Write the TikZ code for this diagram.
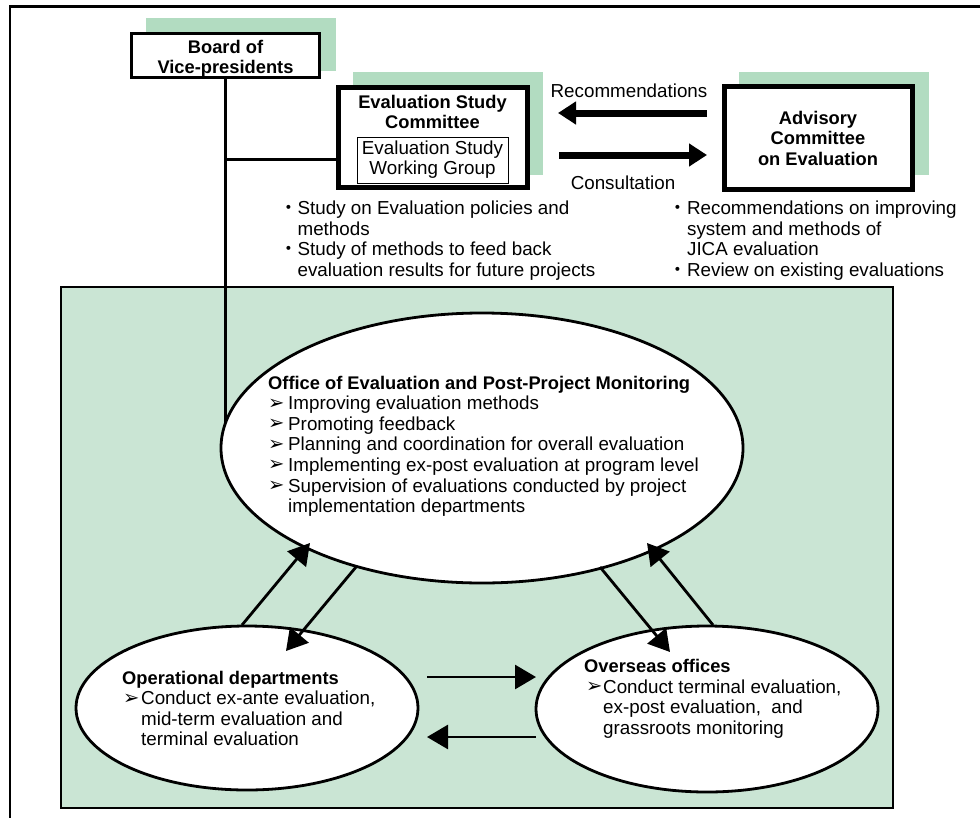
\documentclass[tikz,border=0pt]{standalone}
\usepackage{fontspec}
\setmainfont{Liberation Sans}
\newfontfamily\dejavu{DejaVu Sans}
\newfontfamily\cjk{Noto Sans CJK JP}
\usetikzlibrary{arrows.meta,shapes.geometric}
\definecolor{shadowgreen}{RGB}{178,220,193}
\definecolor{panelgreen}{RGB}{202,229,212}
\newcommand\blkL[1]{\begin{tabular}[t]{@{}l@{}}#1\end{tabular}}
\newcommand\blkC[1]{\begin{tabular}[t]{@{}c@{}}#1\end{tabular}}
\newcommand\dotb{\makebox[18.4pt][c]{\cjk ・}}
\newcommand\arwb[1]{\makebox[#1][l]{\raisebox{0.5pt}{\dejavu\fontsize{19.5}{15}\selectfont ➢}}}
\newcommand\ttlbold{\fontsize{18.3}{20.6}\selectfont\bfseries}
\begin{document}
\begin{tikzpicture}[x=1pt,y=-1pt,
  txt/.style={inner sep=0pt,font=\fontsize{18.8}{20.6}\selectfont},
  txtb/.style={inner sep=0pt,font=\fontsize{18.3}{20.6}\selectfont\bfseries},
  boxthin/.style={draw,fill=white,line width=2.8pt,rectangle,inner sep=0pt},
  boxthick/.style={draw,fill=white,line width=5pt,rectangle,inner sep=0pt},
  boxinner/.style={draw,fill=white,line width=1pt,rectangle,inner sep=0pt},
  oval/.style={draw,fill=white,ellipse,line width=2.8pt,inner sep=0pt},
  conn/.style={line width=3pt},
  smallarrow/.style={line width=2.8pt,-{Triangle[length=21pt,width=24pt]}},
  bigarrow/.style={line width=7pt,-{Triangle[length=18pt,width=22pt]}}]
\useasboundingbox (0,0) rectangle (980,817);
\clip (0,0) rectangle (980,817);
\fill[white] (0,0) rectangle (980,817);
% outer frame
\draw[line width=2.5pt] (10,6.5) rectangle (1000,840);
% green panel
\draw[line width=2.5pt,fill=panelgreen] (61,287) rectangle (893,808);
% shadows
\fill[shadowgreen] (146,18) rectangle (336,71);
\fill[shadowgreen] (353,72) rectangle (543,175);
\fill[shadowgreen] (739,72) rectangle (929,175);
% boxes
\node[boxthin,minimum width=188pt,minimum height=44pt] (board) at (225.5,55.5) {};
\node[boxthick,minimum width=189pt,minimum height=100pt] (esc) at (433,137.5) {};
\node[boxinner,minimum width=151pt,minimum height=46pt] (wg) at (432.5,160) {};
\node[boxthick,minimum width=188pt,minimum height=103pt] (adv) at (818.5,138) {};
% connectors first, then ellipses
\coordinate (officec) at (482,448);
\coordinate (jn) at (225.5,159);
\draw[conn] (board.south) -- (board.south |- officec);
\draw[conn] (jn) -- (jn -| esc.west);
\node[oval,minimum width=522pt,minimum height=270pt] (office) at (officec) {};
\node[oval,minimum width=342pt,minimum height=164pt] (oper) at (247,708) {};
\node[oval,minimum width=342pt,minimum height=166pt] (over) at (707,709) {};
% big arrows
\coordinate (recA) at (707,113);
\coordinate (recB) at (558,113);
\coordinate (conA) at (559,155);
\coordinate (conB) at (707,155);
\draw[bigarrow] (recA) -- (recB);
\draw[bigarrow] (conA) -- (conB);
% small arrows
\coordinate (ulA) at (242,625);
\coordinate (ulB) at (310,543);
\coordinate (dlA) at (356,567);
\coordinate (dlB) at (286,651);
\coordinate (drA) at (600,567);
\coordinate (drB) at (670,652);
\coordinate (urA) at (713,625);
\coordinate (urB) at (647,543);
\coordinate (hrA) at (427,677);
\coordinate (hrB) at (536,677);
\coordinate (hlA) at (536,737);
\coordinate (hlB) at (427,737);
\draw[smallarrow] (ulA) -- (ulB);
\draw[smallarrow] (dlA) -- (dlB);
\draw[smallarrow] (drA) -- (drB);
\draw[smallarrow] (urA) -- (urB);
\draw[smallarrow] (hrA) -- (hrB);
\draw[smallarrow] (hlA) -- (hlB);
% texts
\node[txtb,anchor=base] (tboard) at (225.5,53) {\blkC{Board of\\Vice-presidents}};
\node[txtb,anchor=base] (tesc) at (432.5,108) {\blkC{Evaluation Study\\Committee}};
\node[txt,anchor=base] (twg) at (432.5,154) {\blkC{Evaluation Study\\Working Group}};
\node[txtb,anchor=base] (tadv) at (818,124) {\blkC{Advisory\\Committee\\on Evaluation}};
\node[txt,anchor=base] (trec) at (629,97) {Recommendations};
\node[txt,anchor=base] (tcon) at (623,189) {Consultation};
\node[txt,anchor=base west] (tescl) at (279,214.5) {\blkL{\dotb Study on Evaluation policies and\\
\hspace*{18.4pt}methods\\
\dotb Study of methods to feed back\\
\hspace*{18.4pt}evaluation results for future projects}};
\node[txt,anchor=base west] (tadvl) at (668.5,214.5) {\blkL{\dotb Recommendations on improving\\
\hspace*{18.4pt}system and methods of\\
\hspace*{18.4pt}JICA evaluation\\
\dotb Review on existing evaluations}};
\node[txt,anchor=base west] (toffice) at (268,389) {\blkL{{\ttlbold Office of Evaluation and Post-Project Monitoring}\\
\arwb{20pt}Improving evaluation methods\\
\arwb{20pt}Promoting feedback\\
\arwb{20pt}Planning and coordination for overall evaluation\\
\arwb{20pt}Implementing ex-post evaluation at program level\\
\arwb{20pt}Supervision of evaluations conducted by project\\
\hspace*{20pt}implementation departments}};
\node[txt,anchor=base west] (toper) at (122,684) {\blkL{{\ttlbold Operational departments}\\
\hspace*{1pt}\arwb{18pt}Conduct ex-ante evaluation,\\
\hspace*{19pt}mid-term evaluation and\\
\hspace*{19pt}terminal evaluation}};
\node[txt,anchor=base west] (tover) at (584,672.7) {\blkL{{\ttlbold Overseas offices}\\
\hspace*{2pt}\arwb{17pt}Conduct terminal evaluation,\\
\hspace*{19pt}ex-post evaluation,\ \ and\\
\hspace*{19pt}grassroots monitoring}};
\end{tikzpicture}
\end{document}
